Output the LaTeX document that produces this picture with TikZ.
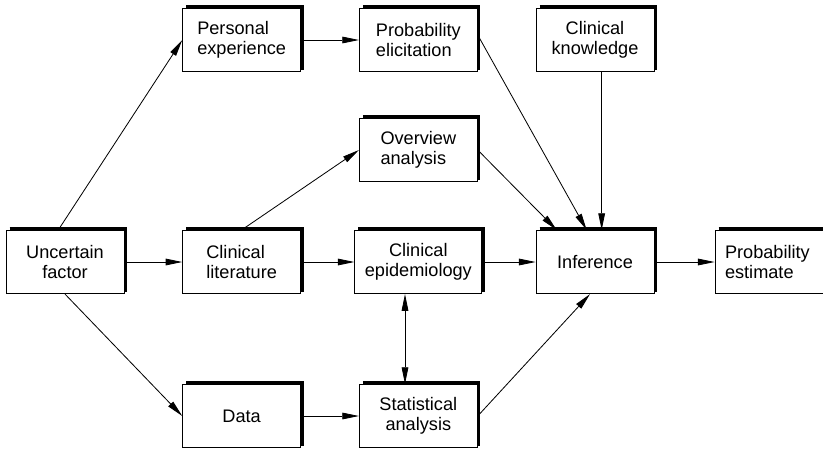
\documentclass[tikz,border=0pt]{standalone}
\usepackage{fontspec}
\setsansfont{Liberation Sans}
\usepackage{tikz}
\usetikzlibrary{
    shapes,
    positioning,
    arrows.meta
}
\tikzset{
  basic/.style = {
      draw,
      line width=0.7pt,
      minimum width=3.54cm,
      minimum height=1.9cm,
      inner xsep=0.3cm,
      font=\sffamily\fontsize{15.5}{17}\selectfont,
      rectangle,
      fill=white
  },
  box/.style = {
      basic,
      align=left
  },
  cbox/.style = {
      basic,
      align=center
  },
  ridge/.style = {
      line width=2.3pt,
      line join=miter
  },
  link/.style = {
      line width=0.7pt,
      -{Triangle[length=0.5cm, width=0.2cm]}
  },
  both/.style = {
      line width=0.7pt,
      {Triangle[length=0.5cm, width=0.2cm]}-{Triangle[length=0.5cm, width=0.2cm]}
  }
}
\begin{document}
\begin{tikzpicture}[node distance=5.3cm]
    \useasboundingbox (0,0) rectangle (24.69,-13.47);
    \node[cbox] (unc) at (1.95,-7.86) {Uncertain\\factor};
    \node[box, right of=unc] (lit) {Clinical\\literature};
    \node[cbox, right of=lit] (epid) {Clinical\\epidemiology};
    \node[box, right of=epid] (inf) {Inference};
    \node[box, right of=inf, xshift=0.2cm, text width=3.2cm] (est) {Probability\\estimate};
    \node[box, node distance=6.66cm, above of=lit] (pers) {Personal\\experience};
    \node[box, node distance=6.66cm, above of=epid] (elic) {Probability\\elicitation};
    \node[cbox, node distance=6.66cm, above of=inf] (know) {Clinical\\knowledge};
    \node[box, node distance=3.36cm, above of=epid] (over) {Overview\\analysis};
    \node[cbox, node distance=4.62cm, below of=lit] (data) {Data};
    \node[cbox, node distance=4.62cm, below of=epid] (stat) {Statistical\\analysis};
    % Shadow edges
    \foreach \n in {unc,lit,epid,inf,est,pers,elic,know,over,data,stat}
        \draw[ridge] ([shift={(0.12,0.035)}]\n.north west) -- ([shift={(0.035,0.035)}]\n.north east)
            -- ([shift={(0.035,0.06)}]\n.south east);
    % Edges
    \draw[link] ([xshift=-0.2cm]unc.north) -- (pers.west);
    \draw[link] (unc) -- (lit);
    \draw[link] (unc.south) -- (data.west);
    \draw[link] (pers) -- (elic);
    \draw[link] (lit.north) -- (over.west);
    \draw[link] (lit) -- (epid);
    \draw[link] (data) -- (stat);
    \draw[link] ([yshift=0.15cm]elic.east) -- ([xshift=-0.25cm]inf.north);
    \draw[link] (over.east) -- ([xshift=-1.15cm]inf.north);
    \draw[link] ([xshift=0.2cm]know.south) -- ([xshift=0.2cm]inf.north);
    \draw[link] (epid) -- (inf);
    \draw[link] (stat.east) -- ([xshift=-0.15cm]inf.south);
    \draw[both] ([xshift=-0.4cm]epid.south) -- ([xshift=-0.4cm]stat.north);
    \draw[link] (inf) -- (est);
\end{tikzpicture}
\end{document}
